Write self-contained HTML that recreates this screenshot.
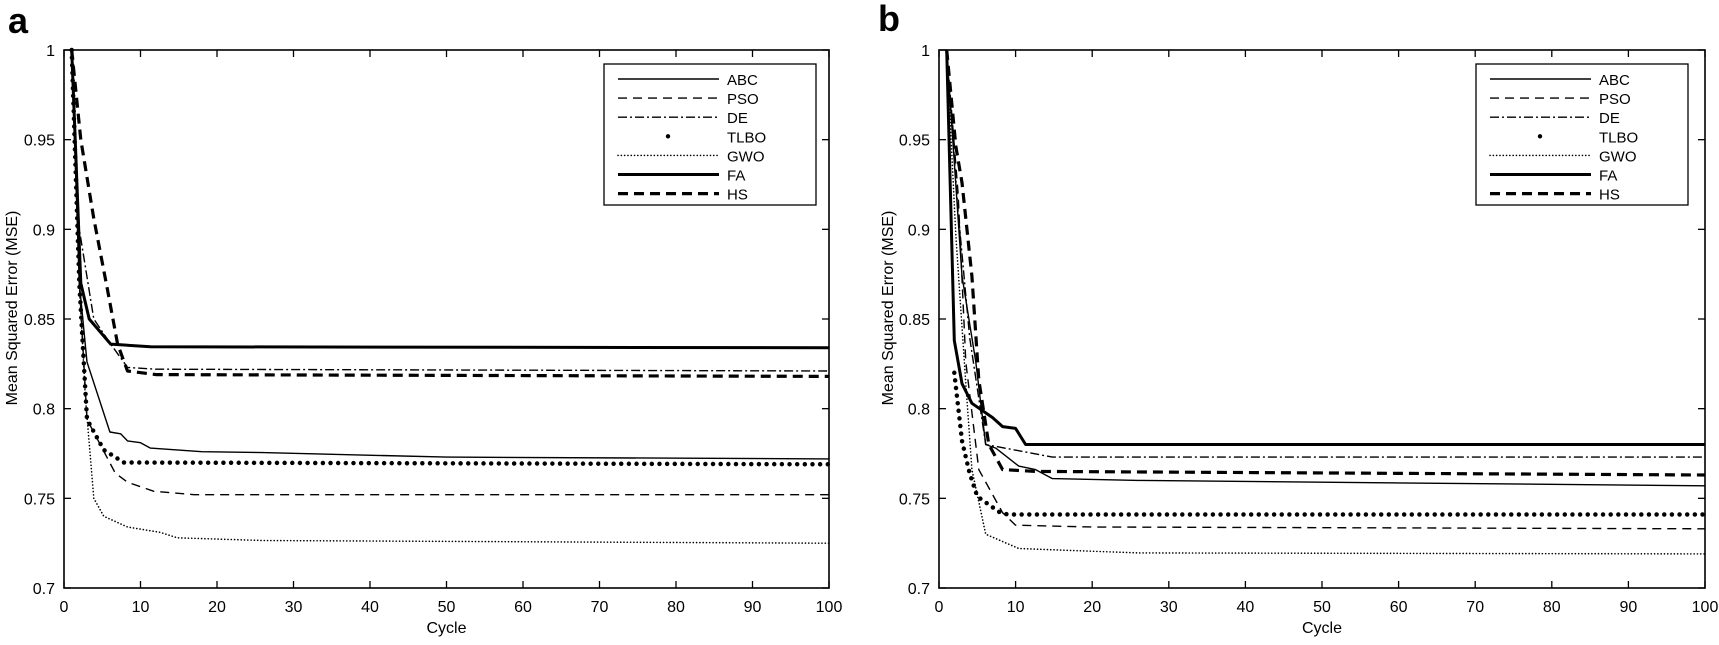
<!DOCTYPE html>
<html><head><meta charset="utf-8"><style>
html,body{margin:0;padding:0;background:#fff;}
svg{display:block;font-family:"Liberation Sans",Arial,sans-serif;}
</style></head><body>
<svg id="fig" width="1719" height="645" viewBox="0 0 1719 645" xmlns="http://www.w3.org/2000/svg">
<text x="8" y="33" font-size="36" font-weight="bold">a</text>
<text x="878" y="31" font-size="36" font-weight="bold">b</text>
<g id="pa"></g>
<g id="pb"></g>
</svg>
<script>
// ---- data: panel a (cycle / MSE keypoints) ----
const ticksX = [0,10,20,30,40,50,60,70,80,90,100];
const ticksY = [0.7,0.75,0.8,0.85,0.9,0.95,1];
const tickLabelsY = ["0.7","0.75","0.8","0.85","0.9","0.95","1"];
const seriesNames = ["ABC","PSO","DE","TLBO","GWO","FA","HS"];

const a_ABC_x = [1,2,3,6,7.4,8.3,10,11.3,18,26,50,100];
const a_ABC_y = [1,0.87,0.826,0.787,0.786,0.782,0.781,0.778,0.776,0.7755,0.773,0.772];
const a_PSO_x = [1,2,3,6.7,8.3,11.7,17,100];
const a_PSO_y = [1,0.87,0.794,0.764,0.759,0.754,0.752,0.752];
const a_DE_x = [1,2,3.9,6.1,8.3,12,100];
const a_DE_y = [1,0.9,0.85,0.836,0.823,0.822,0.821];
const a_TLBO_x = [1,2,3,5.2,7.8,100];
const a_TLBO_y = [1,0.87,0.794,0.777,0.770,0.769];
const a_GWO_x = [1,2,2.8,3.9,5.2,8.3,12.6,14.8,26,100];
const a_GWO_y = [1,0.87,0.806,0.75,0.74,0.734,0.731,0.728,0.7265,0.725];
const a_FA_x = [1,2.2,3.3,6.1,11.3,100];
const a_FA_y = [1,0.87,0.85,0.836,0.8345,0.834];
const a_HS_x = [1,2.2,3.9,5.7,7,8.3,12,100];
const a_HS_y = [1,0.95,0.906,0.866,0.836,0.821,0.819,0.818];

// ---- data: panel b ----
const b_ABC_x = [1,3,4.8,6.1,7.4,10.4,12.6,14.8,26,50,100];
const b_ABC_y = [1,0.874,0.826,0.78,0.778,0.768,0.766,0.761,0.760,0.759,0.757];
const b_PSO_x = [1,2.5,3.5,5.2,8.3,10,20,100];
const b_PSO_y = [1,0.92,0.826,0.766,0.742,0.735,0.734,0.733];
const b_DE_x = [1,2.5,4,6.1,14.8,100];
const b_DE_y = [1,0.91,0.84,0.78,0.773,0.773];
const b_TLBO_x = [2,3,4,5,6,7,8,9,100];
const b_TLBO_y = [0.82,0.782,0.764,0.751,0.748,0.745,0.742,0.741,0.741];
const b_GWO_x = [1,2.2,3.5,4.3,6.1,10.4,26,100];
const b_GWO_y = [1,0.896,0.814,0.766,0.73,0.722,0.7196,0.719];
const b_FA_x = [1,2,3,4.3,7,8.3,10,11.3,100];
const b_FA_y = [1,0.838,0.814,0.803,0.795,0.79,0.789,0.780,0.780];
const b_HS_x = [1,2.2,3,4.3,5.2,6.5,8.3,12.6,100];
const b_HS_y = [1,0.946,0.926,0.874,0.816,0.780,0.766,0.765,0.763];

const NS = "http://www.w3.org/2000/svg";
function mk(parent, tag, attrs){ const e=document.createElementNS(NS,tag); for(const k in attrs) e.setAttribute(k,attrs[k]); parent.appendChild(e); return e; }

const styles = {
  ABC:{w:1.4,d:null},
  PSO:{w:1.4,d:"9,6"},
  DE:{w:1.4,d:"9,3,2,3"},
  TLBO:{w:4.5,d:"0,7.65",cap:"round"},
  GWO:{w:1.6,d:"0.1,3.2",cap:"round"},
  FA:{w:3,d:null},
  HS:{w:3.2,d:"10,6"}
};

function drawPanel(g, X0, X1, Y0, Y1, data, legL, ylabX){
  const sx = v => X0 + (v/100)*(X1-X0);
  const sy = v => Y1 - ((v-0.7)/0.3)*(Y1-Y0);
  seriesNames.forEach(n=>{
    const xs=data[n][0], ys=data[n][1], s=styles[n];
    const pts = xs.map((x,i)=>sx(x).toFixed(1)+","+sy(ys[i]).toFixed(1)).join(" ");
    const p = mk(g,"polyline",{points:pts,fill:"none",stroke:"#000","stroke-width":s.w,"stroke-linejoin":"round"});
    if(s.d) p.setAttribute("stroke-dasharray",s.d);
    if(s.cap) p.setAttribute("stroke-linecap",s.cap);
    
    
  });
  const box = mk(g,"rect",{x:X0,y:Y0,width:X1-X0,height:Y1-Y0,fill:"none",stroke:"#000","stroke-width":1.6});
  
  
  ticksX.forEach(t=>{
    const x=sx(t);
    mk(g,"line",{x1:x,y1:Y1,x2:x,y2:Y1-7,stroke:"#000","stroke-width":1.3});
    mk(g,"line",{x1:x,y1:Y0,x2:x,y2:Y0+7,stroke:"#000","stroke-width":1.3});
    const tx = mk(g,"text",{x:x,y:612,"font-size":16,"text-anchor":"middle"});
    tx.textContent=String(t);
    
    
  });
  ticksY.forEach((t,i)=>{
    const y=sy(t);
    mk(g,"line",{x1:X0,y1:y,x2:X0+7,y2:y,stroke:"#000","stroke-width":1.3});
    mk(g,"line",{x1:X1,y1:y,x2:X1-7,y2:y,stroke:"#000","stroke-width":1.3});
    const ty = mk(g,"text",{x:X0-9,y:y+6,"font-size":16,"text-anchor":"end"});
    ty.textContent=tickLabelsY[i];
    
    
  });
  const xt = mk(g,"text",{x:(X0+X1)/2,y:633,"font-size":16,"text-anchor":"middle"});
  xt.textContent="Cycle";
  
  
  const yt = mk(g,"text",{x:0,y:0,"font-size":16,"text-anchor":"middle",transform:`translate(${ylabX},308) rotate(-90)`});
  yt.textContent="Mean Squared Error (MSE)";
  
  
  const lg = mk(g,"g",{});
  
  
  mk(lg,"rect",{x:legL,y:64,width:212,height:141,fill:"#fff",stroke:"#000","stroke-width":1.3});
  seriesNames.forEach((n,i)=>{
    const y = 79 + i*19.1, s=styles[n];
    const e = mk(lg,"g",{});
    
    
    if(n==="TLBO"){
      mk(e,"circle",{cx:legL+64,cy:y,r:2.2,fill:"#000"});
    } else {
      const l = mk(e,"line",{x1:legL+14,y1:y,x2:legL+115,y2:y,stroke:"#000","stroke-width":s.w});
      if(s.d) l.setAttribute("stroke-dasharray",s.d);
      if(s.cap) l.setAttribute("stroke-linecap",s.cap);
    }
    const t = mk(e,"text",{x:legL+123,y:y+6,"font-size":15});
    t.textContent=n;
  });
}

const dataA = {ABC:[a_ABC_x,a_ABC_y],PSO:[a_PSO_x,a_PSO_y],DE:[a_DE_x,a_DE_y],TLBO:[a_TLBO_x,a_TLBO_y],GWO:[a_GWO_x,a_GWO_y],FA:[a_FA_x,a_FA_y],HS:[a_HS_x,a_HS_y]};
const dataB = {ABC:[b_ABC_x,b_ABC_y],PSO:[b_PSO_x,b_PSO_y],DE:[b_DE_x,b_DE_y],TLBO:[b_TLBO_x,b_TLBO_y],GWO:[b_GWO_x,b_GWO_y],FA:[b_FA_x,b_FA_y],HS:[b_HS_x,b_HS_y]};
drawPanel(document.getElementById("pa"),64,829,50,588,dataA,604,17);
drawPanel(document.getElementById("pb"),939,1705,50,588,dataB,1476,893);
</script>
</body></html>
